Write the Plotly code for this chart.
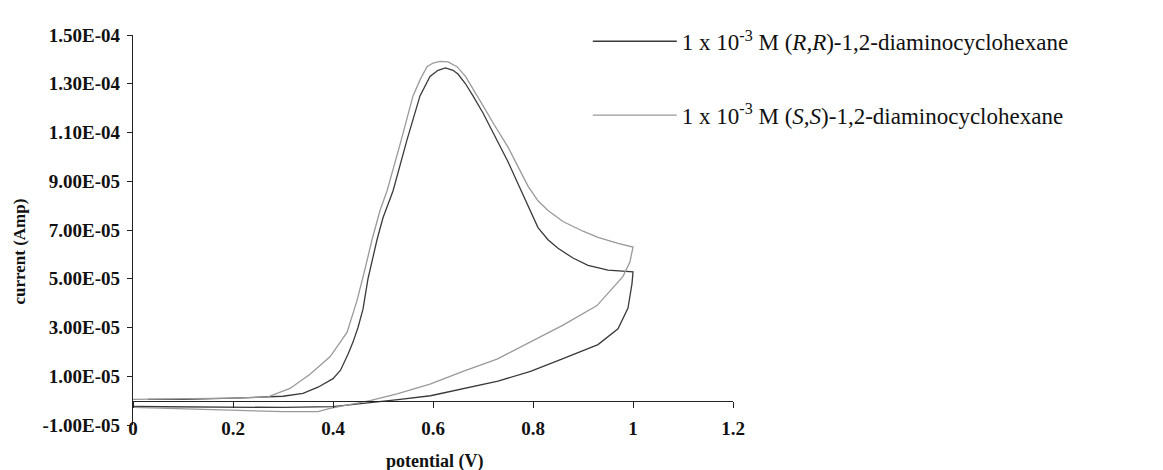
import plotly.graph_objects as go

# ---- data (potential in V, current in units of 1e-5 A) ----
rr_potential = [0.03, 0.10, 0.20, 0.25, 0.30, 0.34, 0.37, 0.40, 0.415, 0.43, 0.44, 0.45, 0.46,
                0.47, 0.48, 0.488, 0.50, 0.52, 0.548, 0.574, 0.594, 0.61, 0.625, 0.64, 0.65,
                0.665, 0.68, 0.70, 0.72, 0.75, 0.77, 0.79, 0.81, 0.83, 0.85, 0.88, 0.91, 0.95, 1.0,
                0.998, 0.99, 0.97, 0.93, 0.86, 0.795, 0.73, 0.66, 0.595, 0.53, 0.47, 0.40,
                0.30, 0.20, 0.10, 0.0]
rr_current = [0.05, 0.05, 0.10, 0.13, 0.18, 0.30, 0.55, 0.90, 1.25, 1.90, 2.40, 3.00, 3.75,
              5.00, 5.90, 6.60, 7.50, 8.60, 10.70, 12.50, 13.30, 13.55, 13.65, 13.55, 13.40,
              13.00, 12.50, 11.80, 11.00, 9.80, 8.90, 8.00, 7.10, 6.60, 6.25, 5.85, 5.55, 5.35, 5.28,
              4.80, 3.80, 2.95, 2.30, 1.72, 1.20, 0.80, 0.48, 0.20, 0.04, -0.10, -0.25,
              -0.28, -0.27, -0.25, -0.24]

ss_potential = [0.0, 0.10, 0.20, 0.27, 0.314, 0.354, 0.394, 0.428, 0.448, 0.464, 0.478, 0.494,
                0.508, 0.534, 0.56, 0.575, 0.588, 0.60, 0.614, 0.63, 0.648, 0.665, 0.68, 0.70,
                0.72, 0.75, 0.77, 0.79, 0.81, 0.83, 0.86, 0.90, 0.93, 0.97, 1.0,
                0.994, 0.98, 0.928, 0.86, 0.794, 0.728, 0.66, 0.594, 0.528, 0.474, 0.394,
                0.37, 0.30, 0.20, 0.10, 0.0]
ss_current = [0.05, 0.07, 0.10, 0.15, 0.50, 1.08, 1.80, 2.80, 4.10, 5.40, 6.60, 7.80,
              8.60, 10.50, 12.50, 13.20, 13.70, 13.85, 13.92, 13.90, 13.70, 13.30, 12.80, 12.10,
              11.40, 10.40, 9.60, 8.80, 8.20, 7.80, 7.35, 6.95, 6.70, 6.45, 6.30,
              5.70, 5.10, 3.90, 3.10, 2.40, 1.70, 1.20, 0.68, 0.28, 0.00, -0.32,
              -0.45, -0.45, -0.40, -0.33, -0.28]
CURRENT_UNIT = 1e-5

y_tickvals = [-1e-5, 1e-5, 3e-5, 5e-5, 7e-5, 9e-5, 1.1e-4, 1.3e-4, 1.5e-4]
y_ticktext = ["-1.00E-05", "1.00E-05", "3.00E-05", "5.00E-05", "7.00E-05",
              "9.00E-05", "1.10E-04", "1.30E-04", "1.50E-04"]
x_tickvals = [0, 0.2, 0.4, 0.6, 0.8, 1.0, 1.2]
x_ticktext = ["0", "0.2", "0.4", "0.6", "0.8", "1", "1.2"]

rr_name = "1 x 10<sup>-3</sup> M (<i>R,R</i>)-1,2-diaminocyclohexane"
ss_name = "1 x 10<sup>-3</sup> M (<i>S,S</i>)-1,2-diaminocyclohexane"

SERIF = "Liberation Serif"

fig = go.Figure()
fig.add_trace(go.Scatter(x=rr_potential, y=[v * CURRENT_UNIT for v in rr_current],
                         mode="lines", name=rr_name, legendgroup="rr",
                         line=dict(color="#3a3a3a", width=1.3)))
fig.add_trace(go.Scatter(x=ss_potential, y=[v * CURRENT_UNIT for v in ss_current],
                         mode="lines", name=ss_name, legendgroup="ss", xaxis="x2",
                         line=dict(color="#9a9a9a", width=1.3)))

fig.update_layout(
    width=1155, height=462,
    margin=dict(l=125, r=430, t=19, b=45),
    paper_bgcolor="white", plot_bgcolor="white",
    showlegend=True,
    legend=dict(x=0.758, y=1.039, xanchor="left", yanchor="top",
                font=dict(family=SERIF, size=23, color="#111"),
                tracegroupgap=41, itemwidth=84, bgcolor="rgba(0,0,0,0)"),
    xaxis=dict(range=[0, 1.2], tickvals=x_tickvals, ticktext=x_ticktext,
               showline=False, showgrid=False, zeroline=False, ticks="",
               anchor="free", position=0.025, automargin=False,
               tickfont=dict(family=SERIF, size=19, color="#111", weight="bold")),
    xaxis2=dict(range=[0, 1.2], overlaying="x", anchor="free", position=0.0625,
                side="bottom", tickvals=x_tickvals, showticklabels=False,
                showline=True, linecolor="#222", linewidth=1.2, ticks="outside",
                ticklen=6, tickcolor="#222", showgrid=False, zeroline=False,
                automargin=False),
    yaxis=dict(range=[-1e-5, 1.5e-4], tickvals=y_tickvals, ticktext=y_ticktext,
               showline=True, linecolor="#222", linewidth=1.2, ticks="outside",
               ticklen=5, tickcolor="#222", showgrid=False, zeroline=False,
               automargin=False, ticklabelstandoff=3,
               tickfont=dict(family=SERIF, size=19, color="#111", weight="bold")),
    annotations=[
        dict(text="<b>current (Amp)</b>", xref="paper", yref="paper",
             x=(20 - 133) / 600, y=(425 - 248) / 398, textangle=-90, showarrow=False,
             xanchor="center", yanchor="middle",
             font=dict(family=SERIF, size=17, color="#111")),
        dict(text="<b>potential (V)</b>", xref="paper", yref="paper",
             x=(435 - 133) / 600, y=(425 - 462) / 398, showarrow=False,
             xanchor="center", yanchor="middle",
             font=dict(family=SERIF, size=18, color="#111")),
    ],
)

fig.write_html("out.html")
